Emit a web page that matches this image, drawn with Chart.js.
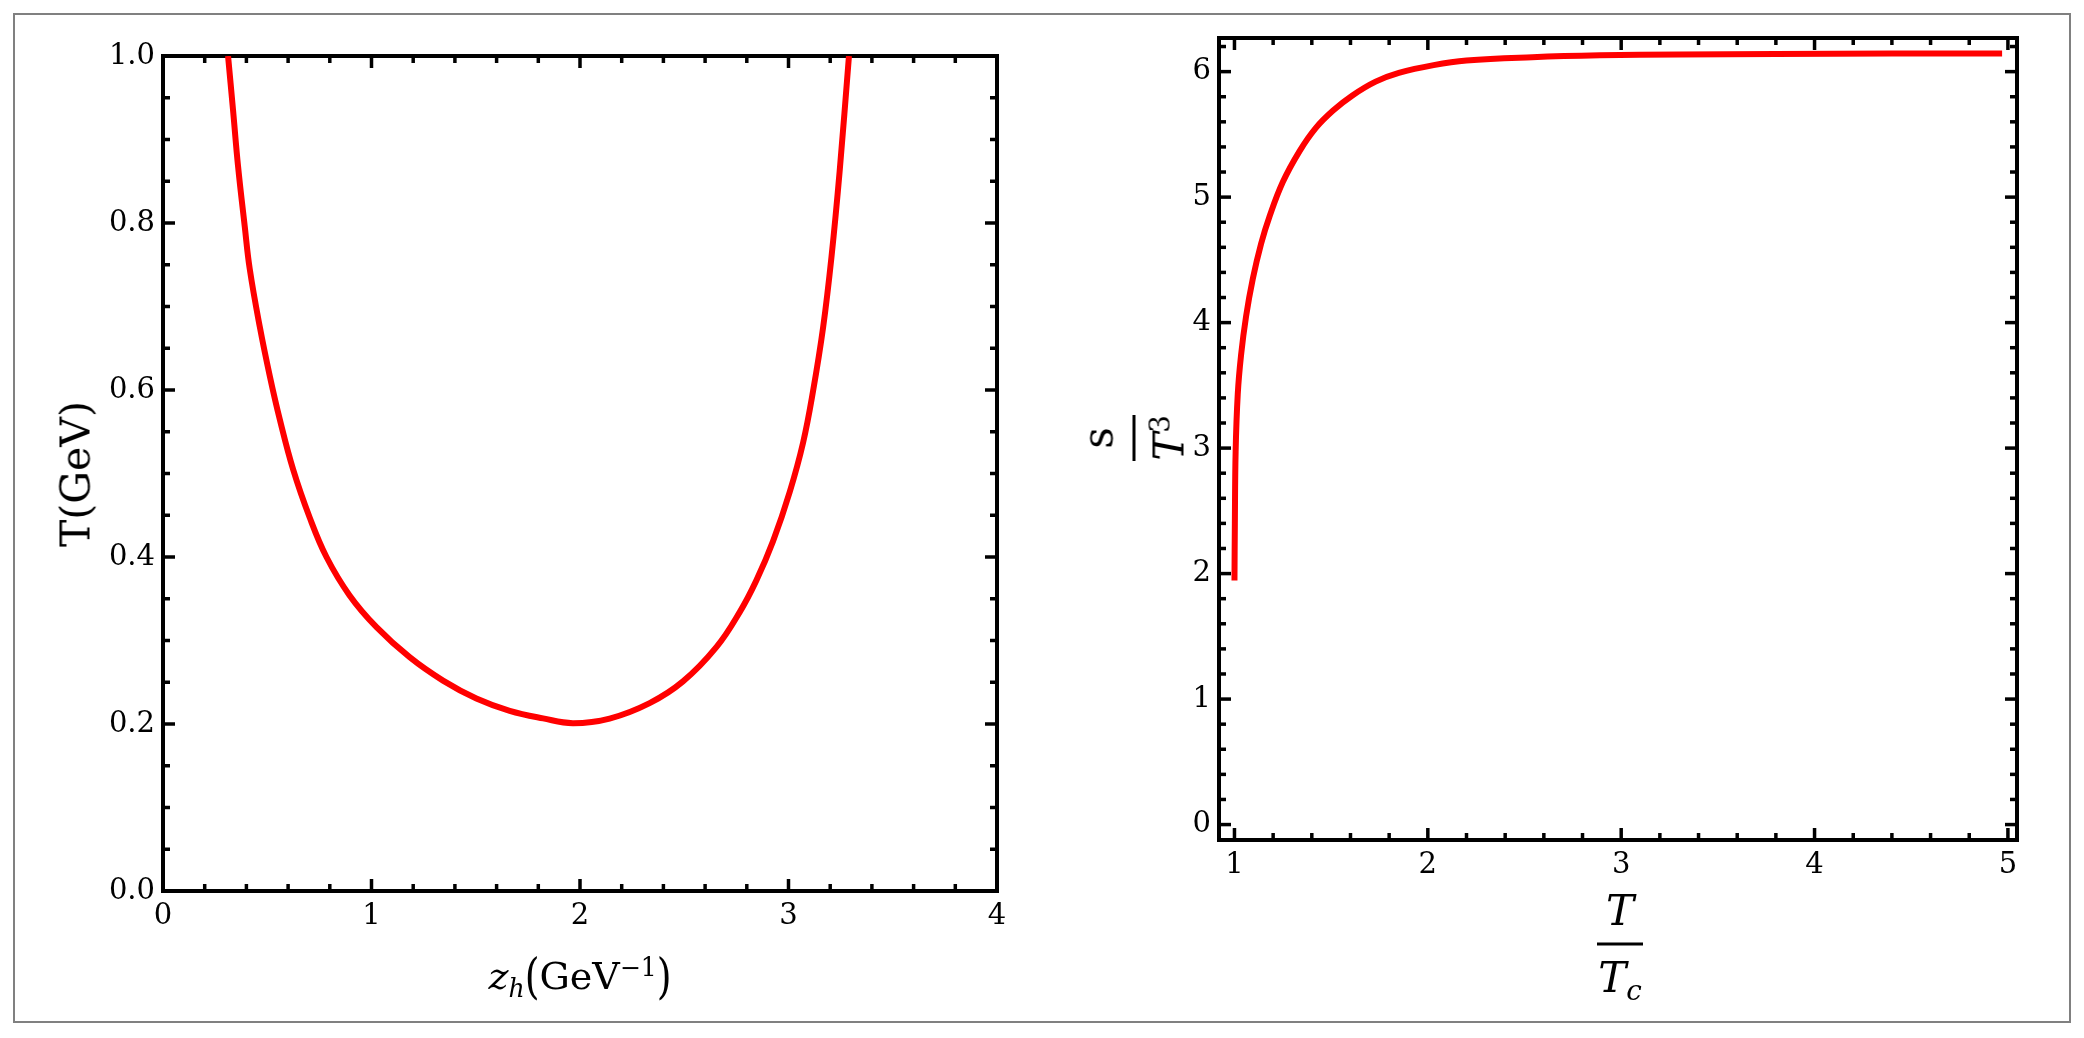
<!DOCTYPE html>
<html>
<head>
<meta charset="utf-8">
<script src="https://cdn.jsdelivr.net/npm/chart.js@4.4.1/dist/chart.umd.min.js"></script>
<style>
  html, body { margin: 0; padding: 0; background: #fff; }
  #page { position: relative; width: 2084px; height: 1038px; overflow: hidden; font-family: "DejaVu Serif", serif; color: #000; }
  #outline { position: absolute; left: 13px; top: 13px; width: 2054px; height: 1006px; border: 2px solid #808080; }
  canvas { position: absolute; top: 0; }
  .ttl { position: absolute; font-size: 41px; line-height: 1; white-space: nowrap; transform: translate(-50%, -50%); }
  .ttl.rot { transform: translate(-50%, -50%) rotate(-90deg); }
  .ttl i { font-style: italic; }
  .ttl sub, .ttl sup { font-size: 0.66em; vertical-align: baseline; position: relative; }
  .ttl sub { top: 0.3em; }
  .ttl sup { top: -0.5em; }
  .paren { display: inline-block; transform: scaleY(1.3); }
  .frac { display: flex; flex-direction: column; align-items: center; font-size: 42px; }
  .frac .bar { width: 46px; height: 3px; background: #000; margin: 11px 0; }
</style>
</head>
<body>
<div id="page">
  <div id="outline"></div>
  <canvas id="leftChart" width="1042" height="1038" style="left:0;width:1042px;height:1038px"></canvas>
  <canvas id="rightChart" width="1042" height="1038" style="left:1042px;width:1042px;height:1038px"></canvas>

  <div class="ttl rot" style="left:76px; top:474px;">T(GeV)</div>
  <div class="ttl" style="left:580px; top:976px; font-size:38px;"><i>z</i><sub><i>h</i></sub><span class="paren">(</span>GeV<sup>−1</sup><span class="paren">)</span></div>

  <div class="ttl rot frac" style="left:1134px; top:438px;"><span>s</span><span class="bar" style="margin:13px 0"></span><span><i>T</i><sup>3</sup></span></div>
  <div class="ttl frac" style="left:1620px; top:944px;"><span><i>T</i></span><span class="bar"></span><span><i>T</i><sub><i>c</i></sub></span></div>
</div>

<script>
// left panel: T (GeV) against z_h (GeV^-1)
const zhValues = [0.312, 0.336, 0.36, 0.392, 0.416, 0.464, 0.512, 0.56, 0.624, 0.704, 0.784, 0.895,
                  1.024, 1.183, 1.343, 1.503, 1.663, 1.823, 1.966, 2.142, 2.334, 2.494, 2.654,
                  2.766, 2.846, 2.926, 3.006, 3.07, 3.118, 3.166, 3.206, 3.245, 3.29];
const tValues = [1.0, 0.935, 0.868, 0.796, 0.745, 0.676, 0.617, 0.565, 0.505, 0.447, 0.400, 0.354,
                 0.316, 0.28, 0.252, 0.2306, 0.2158, 0.2067, 0.201, 0.2065, 0.225, 0.251, 0.292,
                 0.334, 0.372, 0.419, 0.478, 0.537, 0.599, 0.675, 0.759, 0.861, 1.0];

// right panel: s/T^3 against T/Tc
const tOverTc = [1.0, 1.002, 1.006, 1.017, 1.034, 1.06, 1.095, 1.138, 1.18, 1.25, 1.336, 1.42,
                 1.51, 1.61, 1.73, 1.85, 2.03, 2.2, 2.54, 2.89, 3.3, 3.8, 4.4, 4.97];
const sOverT3 = [1.945, 2.4, 2.97, 3.43, 3.74, 4.05, 4.35, 4.63, 4.84, 5.12, 5.365, 5.55,
                 5.69, 5.81, 5.92, 5.99, 6.052, 6.088, 6.115, 6.13, 6.137, 6.141, 6.144, 6.145];

// tick labels
const leftXTicks = [0, 1, 2, 3, 4];
const leftYTicks = [0, 0.2, 0.4, 0.6, 0.8, 1.0];
const rightXTicks = [1, 2, 3, 4, 5];
const rightYTicks = [0, 1, 2, 3, 4, 5, 6];

const tickFont = { family: 'DejaVu Serif', size: 29 };

// frame with inward ticks on all four sides (mathematica style)
const frameTicks = {
    id: 'frameTicks',
    beforeDatasetsDraw(chart, args, opts) {
        const ctx = chart.ctx;
        const a = chart.chartArea;
        const xs = chart.scales.x, ys = chart.scales.y;

        function seg(x1, y1, x2, y2) {
            ctx.beginPath();
            ctx.moveTo(x1, y1);
            ctx.lineTo(x2, y2);
            ctx.stroke();
        }
        function marks(scale, major, minor) {
            const out = [];
            for (let i = Math.ceil(scale.min / minor - 1e-9); i * minor <= scale.max + 1e-9; i++) {
                const v = i * minor;
                const isMajor = Math.abs(v / major - Math.round(v / major)) < 1e-6;
                out.push({ px: scale.getPixelForValue(v), len: isMajor ? 12 : 7 });
            }
            return out;
        }

        ctx.save();
        ctx.strokeStyle = '#000';
        ctx.lineWidth = 3.5;
        marks(xs, opts.xMajor, opts.xMinor).forEach(m => {
            seg(m.px, a.bottom, m.px, a.bottom - m.len);
            seg(m.px, a.top, m.px, a.top + m.len);
        });
        marks(ys, opts.yMajor, opts.yMinor).forEach(m => {
            seg(a.left, m.px, a.left + m.len, m.px);
            seg(a.right, m.px, a.right - m.len, m.px);
        });
        ctx.lineWidth = 4;
        ctx.strokeRect(a.left, a.top, a.right - a.left, a.bottom - a.top);
        ctx.restore();
    }
};

function makeChart(id, xVals, yVals, cfg) {
    const points = xVals.map((x, i) => ({ x: x, y: yVals[i] }));
    return new Chart(document.getElementById(id), {
        type: 'scatter',
        data: {
            datasets: [{
                data: points,
                showLine: true,
                borderColor: '#ff0000',
                borderWidth: 6,
                pointRadius: 0,
                tension: 0.4,
                fill: false
            }]
        },
        options: {
            responsive: false,
            animation: false,
            devicePixelRatio: 1,
            events: [],
            layout: { padding: cfg.padding },
            plugins: {
                legend: { display: false },
                tooltip: { enabled: false },
                frameTicks: cfg.marks
            },
            scales: {
                x: {
                    type: 'linear',
                    min: cfg.xMin,
                    max: cfg.xMax,
                    grid: { display: false, drawTicks: false },
                    border: { display: false },
                    afterBuildTicks: s => { s.ticks = cfg.xTicks.map(v => ({ value: v })); },
                    afterFit: s => { s.height = cfg.xHeight; },
                    ticks: { autoSkip: false, maxRotation: 0, padding: 8, color: '#000', font: tickFont,
                             callback: cfg.xFmt }
                },
                y: {
                    type: 'linear',
                    min: cfg.yMin,
                    max: cfg.yMax,
                    grid: { display: false, drawTicks: false },
                    border: { display: false },
                    afterBuildTicks: s => { s.ticks = cfg.yTicks.map(v => ({ value: v })); },
                    afterFit: s => { s.width = cfg.yWidth; },
                    ticks: { autoSkip: false, padding: 8, color: '#000', font: tickFont,
                             callback: cfg.yFmt }
                }
            }
        },
        plugins: [frameTicks]
    });
}

const leftChart = makeChart('leftChart', zhValues, tValues, {
    padding: { left: 0, right: 45, top: 56, bottom: 0 },
    xMin: 0, xMax: 4, yMin: 0, yMax: 1,
    xTicks: leftXTicks, yTicks: leftYTicks,
    xHeight: 147, yWidth: 163,
    xFmt: v => String(v), yFmt: v => v.toFixed(1),
    marks: { xMajor: 1, xMinor: 0.2, yMajor: 0.2, yMinor: 0.05 }
});

const rightChart = makeChart('rightChart', tOverTc, sOverT3, {
    padding: { left: 0, right: 67, top: 38, bottom: 0 },
    xMin: 0.92, xMax: 5.047, yMin: -0.123, yMax: 6.268,
    xTicks: rightXTicks, yTicks: rightYTicks,
    xHeight: 198, yWidth: 177,
    xFmt: v => String(v), yFmt: v => String(v),
    marks: { xMajor: 1, xMinor: 0.2, yMajor: 1, yMinor: 0.2 }
});
</script>
</body>
</html>
